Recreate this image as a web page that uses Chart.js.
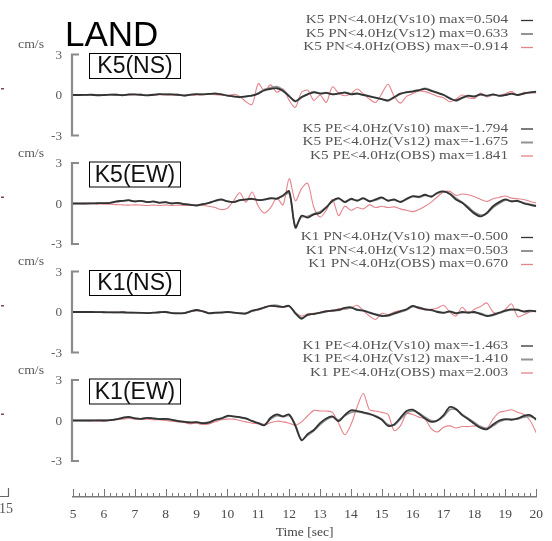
<!DOCTYPE html>
<html><head><meta charset="utf-8">
<script src="https://cdn.jsdelivr.net/npm/chart.js@4.4.1/dist/chart.umd.min.js"></script>
<style>html,body{margin:0;padding:0;background:#fff;}#wrap{width:552px;height:541px;}</style>
</head><body><div id="wrap"><canvas id="c" width="552" height="541"></canvas></div>
<script>
// ---------------- data ----------------
const timeStart = 5, timeEnd = 20, timeStep = 0.2;
const xTickLabels = ['5','6','7','8','9','10','11','12','13','14','15','16','17','18','19','20'];
const yTickValues = [3, 0, -3];
const yUnit = 'cm/s';
const xTitle = 'Time [sec]';
const figureTitle = 'LAND';
const panelNames = ['K5(NS)', 'K5(EW)', 'K1(NS)', 'K1(EW)'];
const seriesNames = ['Vs10', 'Vs12', 'OBS'];
const legendLabels = [
  ['K5 PN<4.0Hz(Vs10) max=0.504', 'K5 PN<4.0Hz(Vs12) max=0.633', 'K5 PN<4.0Hz(OBS) max=-0.914'],
  ['K5 PE<4.0Hz(Vs10) max=-1.794', 'K5 PE<4.0Hz(Vs12) max=-1.675', 'K5 PE<4.0Hz(OBS) max=1.841'],
  ['K1 PN<4.0Hz(Vs10) max=-0.500', 'K1 PN<4.0Hz(Vs12) max=0.503', 'K1 PN<4.0Hz(OBS) max=0.670'],
  ['K1 PE<4.0Hz(Vs10) max=-1.463', 'K1 PE<4.0Hz(Vs12) max=-1.410', 'K1 PE<4.0Hz(OBS) max=2.003']
];

// K5 NS
const k5nsVs10 = [0,0,0.01,0.02,-0.02,0,0.03,0.02,-0.02,0.04,
  0.05,0.02,-0.03,0.02,0.06,0.04,0.05,0.02,-0.04,0.03,
  0.06,0.04,0.08,0.1,0.05,-0.05,-0.1,-0.15,-0.1,-0.05,
  0.1,0.35,0.45,0.5,0.3,-0.1,-0.45,-0.15,0.05,0.2,
  0.1,0.15,0.05,0.12,0.18,0.05,0.1,0.0,-0.1,-0.2,
  -0.3,-0.4,-0.15,0.1,0.2,0.25,0.35,0.45,0.3,0.15,
  0.0,-0.25,-0.4,-0.2,-0.05,-0.1,0.05,-0.05,0.05,-0.05,
  0.0,0.1,0.0,0.1,0.2,0.25];
const k5nsVs12 = [0,0,0.01,0.01,-0.01,0.01,0.02,0.03,-0.01,0.03,
  0.04,0.03,-0.02,0.01,0.05,0.05,0.04,0.03,-0.03,0.02,
  0.05,0.05,0.07,0.12,0.06,-0.03,-0.12,-0.18,-0.12,-0.02,
  0.15,0.42,0.55,0.63,0.38,-0.05,-0.5,-0.2,0.08,0.25,
  0.12,0.18,0.08,0.1,0.2,0.08,0.12,0.02,-0.08,-0.22,
  -0.32,-0.45,-0.2,0.05,0.22,0.3,0.38,0.5,0.35,0.18,
  0.02,-0.22,-0.45,-0.25,-0.08,-0.12,0.02,-0.08,0.03,-0.08,
  -0.02,0.08,0.02,0.12,0.18,0.22];
const k5nsObs = [0,0,-0.01,-0.02,-0.03,-0.02,0.0,0.01,-0.03,0.0,
  0.02,0.0,-0.04,-0.02,0.02,0.01,0.0,-0.02,-0.05,-0.02,
  0.0,0.02,0.05,0.02,0.0,-0.05,0.05,-0.1,-0.5,-0.7,
  0.85,0.3,0.75,0.2,0.45,-0.4,-0.91,0.2,0.35,-0.4,
  0.0,-0.55,0.6,0.15,-0.05,0.1,0.45,0.1,-0.3,-0.55,
  0.1,0.8,-0.1,-0.6,-0.1,0.1,0.3,0.25,0.1,-0.1,
  -0.2,-0.5,-0.3,0.0,-0.2,-0.25,0.15,-0.15,0.0,-0.05,
  0.1,0.25,0.0,0.2,0.15,0.15];
// K5 EW
const k5ewVs10 = [0,0,0,0.01,0.02,0.03,0.05,0.15,0.2,0.25,
  0.15,0.2,0.1,0.15,0.05,0.1,0.0,0.05,-0.05,-0.1,
  -0.15,-0.05,0.05,0.2,0.3,0.15,0.1,0.25,0.3,0.35,
  0.25,0.3,0.4,0.35,0.6,0.9,-1.79,-0.9,-1.05,-0.8,
  -0.7,-0.3,0.2,0.4,0.1,0.35,0.2,0.4,0.15,0.3,
  0.45,0.2,0.3,0.1,0.35,0.55,0.5,0.65,0.5,0.8,
  0.9,0.7,0.3,0.05,-0.35,-0.75,-0.95,-0.7,-0.2,0.1,
  0.3,0.15,0.2,0.0,-0.1,-0.2];
const k5ewVs12 = [0,0,0,0.01,0.02,0.02,0.06,0.12,0.18,0.22,
  0.17,0.18,0.12,0.13,0.07,0.08,0.02,0.03,-0.03,-0.08,
  -0.12,-0.06,0.04,0.18,0.27,0.17,0.12,0.22,0.28,0.32,
  0.27,0.28,0.36,0.38,0.55,0.75,-1.68,-1.0,-0.95,-0.75,
  -0.6,-0.25,0.15,0.35,0.15,0.3,0.25,0.35,0.2,0.25,
  0.4,0.25,0.25,0.15,0.3,0.5,0.45,0.6,0.55,0.75,
  0.85,0.75,0.4,0.1,-0.25,-0.65,-0.85,-0.75,-0.3,0.0,
  0.25,0.2,0.15,0.05,-0.05,-0.15];
const k5ewObs = [0,0,-0.01,-0.02,-0.03,-0.05,-0.05,-0.08,-0.1,-0.12,
  -0.1,-0.12,-0.15,-0.12,-0.15,-0.1,-0.15,-0.12,-0.15,-0.1,
  -0.1,-0.15,-0.2,-0.3,-0.45,-0.35,0.2,0.8,0.1,0.85,
  -0.2,-0.7,-0.3,0.4,-0.1,1.84,0.2,1.1,1.5,-0.3,
  -1.0,-0.5,0.3,-0.9,-0.2,-0.5,-0.3,-0.4,-0.1,-0.3,
  -0.2,-0.3,-0.25,-0.4,-0.5,-0.6,-0.45,-0.2,0.1,0.5,
  0.85,0.9,0.6,0.7,0.65,0.5,0.3,0.15,0.35,0.45,
  0.55,0.4,0.35,0.3,0.15,0.05];
// K1 NS
const k1nsVs10 = [0,0,0,0,-0.01,-0.02,-0.03,-0.03,-0.02,-0.05,
  -0.05,-0.06,-0.08,-0.05,-0.02,0.0,-0.08,-0.1,-0.08,0.05,
  0.15,0.05,-0.1,-0.05,-0.05,0.0,-0.05,-0.1,-0.1,0.1,
  0.2,0.35,0.45,0.42,0.38,0.45,-0.1,-0.5,-0.2,-0.15,
  -0.05,0.05,0.1,0.15,0.3,0.35,0.15,0.1,-0.05,-0.2,
  -0.3,-0.25,-0.1,0.05,0.2,0.45,0.3,0.2,0.15,0.0,
  -0.05,0.05,-0.1,0.0,-0.05,0.0,-0.15,-0.3,-0.2,-0.05,
  0.1,0.2,0.15,0.05,0.1,0.05];
const k1nsVs12 = [0,0,0,0,-0.01,-0.01,-0.02,-0.04,-0.03,-0.04,
  -0.06,-0.05,-0.07,-0.06,-0.03,-0.01,-0.06,-0.09,-0.07,0.03,
  0.12,0.06,-0.08,-0.06,-0.03,0.01,-0.04,-0.08,-0.12,0.06,
  0.18,0.32,0.48,0.5,0.38,0.45,-0.05,-0.42,-0.25,-0.12,
  -0.08,0.02,0.12,0.12,0.25,0.3,0.2,0.12,-0.02,-0.15,
  -0.25,-0.3,-0.15,0.0,0.15,0.4,0.35,0.22,0.12,0.05,
  -0.08,0.02,-0.05,-0.05,0.0,-0.05,-0.1,-0.25,-0.25,-0.1,
  0.05,0.15,0.2,0.0,0.05,0.08];
const k1nsObs = [0,0,0,0.01,0.0,-0.02,-0.02,-0.01,-0.03,-0.04,
  -0.05,-0.04,-0.06,-0.04,-0.03,0.01,-0.05,-0.08,-0.06,0.04,
  0.1,0.08,-0.05,-0.08,-0.02,0.02,-0.02,-0.06,-0.1,0.05,
  0.15,0.3,0.45,0.4,0.35,0.4,-0.05,-0.3,-0.15,-0.1,
  -0.05,0.1,0.05,0.25,0.2,0.3,0.5,0.1,-0.3,-0.55,
  -0.1,-0.2,0.0,0.1,0.15,0.4,0.25,0.15,0.2,0.3,
  0.5,0.0,-0.3,0.35,-0.1,0.2,0.4,0.67,0.0,-0.1,
  0.2,0.6,-0.35,-0.2,0.0,0.05];
// K1 EW
const k1ewVs10 = [0,0,0,0,0.01,0.0,0.02,0.1,0.2,0.27,
  0.15,0.12,0.2,0.15,0.1,0.12,0.05,-0.05,-0.1,-0.15,
  -0.12,-0.2,-0.15,0.05,0.15,0.35,0.3,0.25,0.15,-0.05,
  -0.2,-0.35,0.2,0.45,0.3,0.45,-0.4,-1.46,-1.0,-0.7,
  -0.2,0.15,0.3,-0.05,0.4,0.75,0.7,0.6,0.5,0.3,
  0.05,-0.4,-0.3,0.2,0.7,0.8,0.5,0.15,-0.1,0.0,
  0.4,1.0,0.85,0.4,0.1,-0.25,-0.55,-0.65,-0.3,0.0,
  0.1,0.05,0.15,0.35,0.4,0.05];
const k1ewVs12 = [0,0,0,0,0.01,0.01,0.03,0.08,0.17,0.24,
  0.17,0.13,0.18,0.15,0.12,0.1,0.06,-0.02,-0.08,-0.12,
  -0.14,-0.18,-0.12,0.02,0.12,0.3,0.3,0.22,0.14,-0.02,
  -0.18,-0.3,0.1,0.35,0.28,0.35,-0.3,-1.41,-1.1,-0.75,
  -0.3,0.05,0.25,0.05,0.35,0.6,0.65,0.55,0.45,0.35,
  0.1,-0.3,-0.35,0.1,0.55,0.7,0.55,0.25,0.0,0.0,
  0.3,0.8,0.8,0.45,0.15,-0.15,-0.45,-0.6,-0.4,-0.1,
  0.05,0.1,0.1,0.25,0.3,0.15];
const k1ewObs = [0,0,0,-0.02,-0.05,-0.05,0.0,0.05,0.1,0.15,
  0.1,0.1,0.1,0.05,0.05,0.0,-0.05,-0.1,-0.15,-0.25,
  -0.2,-0.3,-0.25,-0.1,0.05,0.1,0.1,0.0,-0.1,-0.2,
  -0.25,-0.35,-0.15,-0.05,-0.1,-0.2,-0.35,-0.1,0.35,0.75,
  0.7,0.7,0.6,-0.2,-1.05,-0.3,1.0,2.0,0.8,0.7,
  0.6,0.45,-0.75,-0.4,0.5,0.45,0.25,0.1,-0.6,-0.85,
  -0.5,-0.4,-0.55,-0.45,-0.45,-0.4,-0.45,-0.55,0.1,0.6,
  0.7,0.8,0.6,0.45,0.0,-0.9];

const panelSeries = [
  [k5nsVs10, k5nsVs12, k5nsObs],
  [k5ewVs10, k5ewVs12, k5ewObs],
  [k1nsVs10, k1nsVs12, k1nsObs],
  [k1ewVs10, k1ewVs12, k1ewObs]
];

// ---------------- layout / style ----------------
const W = 552, H = 541;
const areaTop = 30, areaBottom = 497, areaLeft = 73, areaRight = 542;
const panelZero = [95, 203.5, 312, 420.5];
const pxPerUnit = 40.5 / 3;
const seriesStyle = [
  { color: '#333333', width: 1.8, order: 1 },
  { color: '#939393', width: 1.6, order: 2 },
  { color: 'rgba(222,100,110,0.8)', width: 1.1, order: 3 }
];
const serif = '"Liberation Serif", "Times New Roman", serif';
const sans = '"Liberation Sans", Arial, sans-serif';

const times = [];
for (let i = 0; i <= Math.round((timeEnd - timeStart) / timeStep); i++) times.push(+(timeStart + i * timeStep).toFixed(2));

const datasets = [];
panelSeries.forEach((series, p) => {
  series.forEach((vals, s) => {
    datasets.push({
      label: legendLabels[p][s],
      data: vals.map((v, i) => ({ x: times[i], y: v })),
      yAxisID: 'y' + p,
      borderColor: seriesStyle[s].color,
      borderWidth: seriesStyle[s].width,
      order: seriesStyle[s].order,
      pointRadius: 0,
      tension: 0.3,
      fill: false
    });
  });
});

const scales = {
  x: {
    type: 'linear', position: 'bottom', min: timeStart, max: timeEnd,
    afterFit(sc) { sc.height = H - areaBottom; },
    grid: { drawOnChartArea: false, drawTicks: false },
    border: { display: true, color: '#7a7a7a', width: 1.5 },
    ticks: {
      stepSize: timeStep, autoSkip: false, maxRotation: 0, minRotation: 0, padding: 9,
      color: '#4a4a4a', font: { family: serif, size: 13.5 },
      callback: (v) => {
        const r = Math.round(v);
        return Math.abs(v - r) < 1e-6 && xTickLabels.includes(String(r)) ? String(r) : '';
      }
    },
    title: { display: true, text: xTitle, color: '#444', font: { family: serif, size: 13.5 }, padding: { top: 0, bottom: 0 } }
  }
};
panelZero.forEach((z, p) => {
  scales['y' + p] = {
    type: 'linear', display: false,
    min: -(areaBottom - z) / pxPerUnit,
    max: (z - areaTop) / pxPerUnit
  };
});

function sText(ctx, str, x, y, align, sx) {
  ctx.save(); ctx.translate(x, y); ctx.scale(sx, 1); ctx.textAlign = align; ctx.fillText(str, 0, 0); ctx.restore();
}

const decor = {
  id: 'decor',
  beforeDatasetsDraw(chart) {
    const ctx = chart.ctx;
    ctx.save();
    ctx.strokeStyle = '#8a8a8a'; ctx.lineWidth = 2.2; ctx.lineJoin = 'miter';
    const x = chart.chartArea.left - 1;
    for (let p = 0; p < 4; p++) {
      const sc = chart.scales['y' + p];
      const yt = sc.getPixelForValue(yTickValues[0]), yb = sc.getPixelForValue(yTickValues[2]);
      ctx.beginPath(); ctx.moveTo(x + 7, yt); ctx.lineTo(x, yt); ctx.lineTo(x, yb); ctx.lineTo(x + 7, yb); ctx.stroke();
    }
    // x axis tick marks (pointing up)
    const xs = chart.scales.x;
    ctx.strokeStyle = '#777'; ctx.lineWidth = 1;
    xs.ticks.forEach(t => {
      const px = Math.round(xs.getPixelForValue(t.value)) + 0.5;
      const major = Math.abs(t.value - Math.round(t.value)) < 1e-6;
      ctx.beginPath(); ctx.moveTo(px, areaBottom); ctx.lineTo(px, areaBottom - (major ? 8 : 4)); ctx.stroke();
    });
    ctx.restore();
  },
  afterDraw(chart) {
    const ctx = chart.ctx;
    ctx.save();
    // title
    ctx.fillStyle = '#000'; ctx.font = '35px ' + sans; ctx.textBaseline = 'alphabetic';
    ctx.fillText(figureTitle, 65, 46);
    for (let p = 0; p < 4; p++) {
      const sc = chart.scales['y' + p];
      const z = sc.getPixelForValue(0);
      // tick labels
      ctx.fillStyle = '#5a5a5a'; ctx.font = '12px ' + serif; ctx.textBaseline = 'middle';
      yTickValues.forEach(v => sText(ctx, String(v), 62, sc.getPixelForValue(v) + 1, 'right', 1.1));
      // unit
      sText(ctx, yUnit, 18, z - 50, 'left', 1.15);
      // panel box
      const bx = 89, by = z - 42, bw = 91, bh = 25;
      ctx.fillStyle = '#fff'; ctx.fillRect(bx, by, bw, bh);
      ctx.strokeStyle = '#000'; ctx.lineWidth = 1;
      ctx.strokeRect(bx + 0.5, by + 0.5, bw, bh);
      ctx.fillStyle = '#111'; ctx.font = '23px ' + sans; ctx.textAlign = 'center'; ctx.textBaseline = 'middle';
      ctx.fillText(panelNames[p], bx + bw / 2 + 0.5, by + bh / 2 + 1.5);
      // legend
      ctx.font = '13px ' + serif; ctx.textBaseline = 'middle';
      const offs = [-75, -61.5, -48];
      for (let s = 0; s < 3; s++) {
        const ly = z + offs[s];
        ctx.fillStyle = '#555';
        sText(ctx, legendLabels[p][s], 508, ly, 'right', 1.17);
        ctx.strokeStyle = seriesStyle[s].color; ctx.lineWidth = s === 1 ? 2 : 1.3;
        ctx.beginPath(); ctx.moveTo(521, ly + 0.5); ctx.lineTo(533, ly + 0.5); ctx.stroke();
      }
      // clipped fragment from neighbouring figure
      ctx.fillStyle = '#7a4a4a'; ctx.fillRect(1, z - 7, 3, 1.5);
    }
    ctx.fillStyle = '#555'; ctx.font = '14px ' + serif; ctx.textAlign = 'left'; ctx.textBaseline = 'middle';
    ctx.fillText('15', -1, 509);
    ctx.strokeStyle = '#666'; ctx.lineWidth = 1.2;
    ctx.beginPath(); ctx.moveTo(0, 496.5); ctx.lineTo(9, 496.5); ctx.moveTo(8.5, 488); ctx.lineTo(8.5, 496.5); ctx.stroke();
    ctx.restore();
  }
};

new Chart(document.getElementById('c'), {
  type: 'line',
  data: { datasets },
  options: {
    responsive: false, animation: false, devicePixelRatio: 1,
    layout: { padding: { top: areaTop, left: areaLeft, right: W - areaRight, bottom: 0 } },
    plugins: { legend: { display: false }, tooltip: { enabled: false }, title: { display: false } },
    scales
  },
  plugins: [decor]
});
</script></body></html>
